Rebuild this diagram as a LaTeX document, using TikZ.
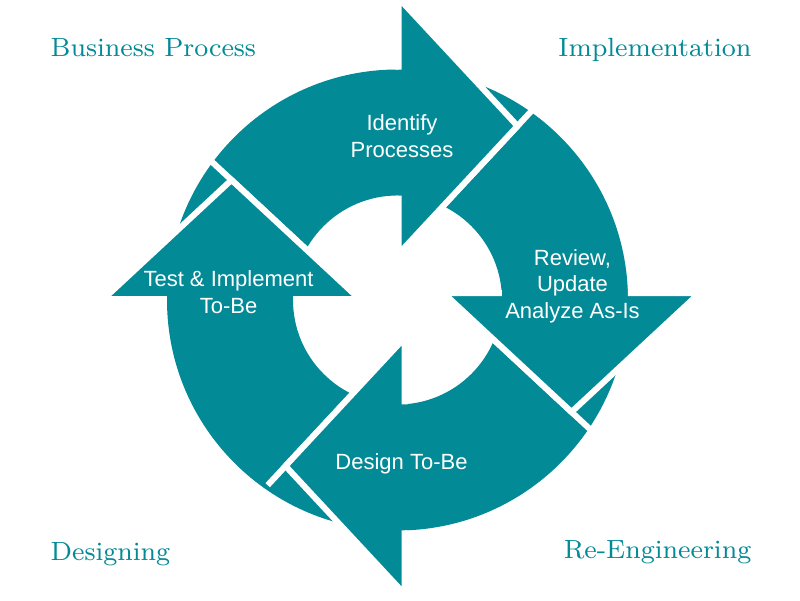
\documentclass[tikz,border=0pt]{standalone}
\usepackage{fontspec}
\newfontfamily\arrowfont{Liberation Sans}
\definecolor{cycleteal}{HTML}{028A96}

\begin{document}
\begin{tikzpicture}[
    ring/.style={fill=cycleteal, even odd rule},
    gap/.style={draw=white, line width=0.6mm},
    head/.style={fill=cycleteal, draw=white, line width=0.6mm, line join=miter},
    steplabel/.style={text=white, align=center, inner sep=0pt,
        font=\arrowfont\fontsize{6.26}{7.68}\selectfont},
    phase/.style={text=cycleteal, inner sep=0pt,
        font=\fontsize{7.5}{9}\selectfont}
]
    \useasboundingbox (-3.975,-3) rectangle (4.025,3);

    \fill[ring]
        (0,0) circle [radius=2.305]
        (0,0) circle [radius=1.045];

    \draw[gap]
        (0.01,0.46) -- (1.3785,1.932)
        (0.46,0.07) -- (1.932,-1.2985)
        (0.07,-0.38) -- (-1.2985,-1.852)
        (-0.38,0.01) -- (-1.852,1.3785);

    \filldraw[head]
        (0.01,1.045) -- (0.01,0.46) -- (1.20,1.74) -- (0.01,3.02) -- (0.01,2.305);
    \filldraw[head]
        (1.043,0.07) -- (0.46,0.07) -- (1.74,-1.12) -- (3.02,0.07) -- (2.304,0.07);
    \filldraw[head]
        (0.07,-1.043) -- (0.07,-0.38) -- (-1.12,-1.66) -- (0.07,-2.94) -- (0.07,-2.304);
    \filldraw[head]
        (-1.045,0.01) -- (-0.38,0.01) -- (-1.66,1.20) -- (-2.94,0.01) -- (-2.305,0.01);

    \node[steplabel] (identify) at (0.045,1.643) {Identify\\Processes};
    \node[steplabel] (review) at (1.75,0.137) {Review,\\Update\\Analyze As-Is};
    \node[steplabel] (design) at (0.04,-1.634) {Design To-Be};
    \node[steplabel] (test) at (-1.69,0.074) {Test \& Implement\\To-Be};

    \node[phase, anchor=base west] (business) at (-3.475,2.44) {Business Process};
    \node[phase, anchor=base east] (implementation) at (3.545,2.43) {Implementation};
    \node[phase, anchor=base west] (designing) at (-3.475,-2.60) {Designing};
    \node[phase, anchor=base east] (reengineering) at (3.545,-2.58) {Re-Engineering};
\end{tikzpicture}
\end{document}
